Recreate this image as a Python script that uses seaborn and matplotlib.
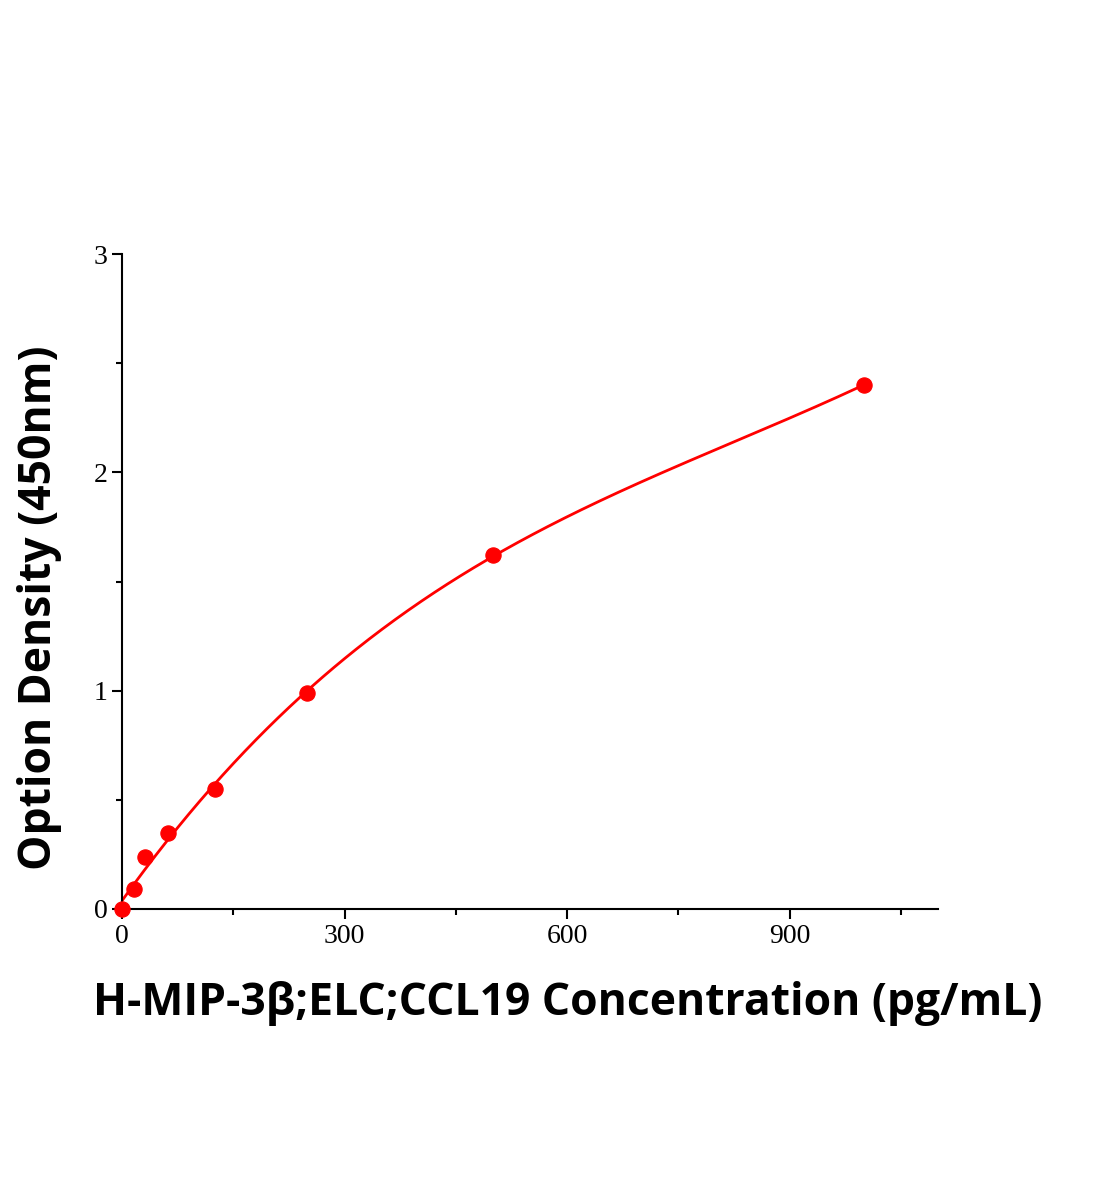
import numpy as np
import matplotlib
matplotlib.use("Agg")
import matplotlib.pyplot as plt
import seaborn as sns
from matplotlib.ticker import MultipleLocator

conc = [0, 15.6, 31.25, 62.5, 125, 250, 500, 1000]
od = [0.0, 0.09, 0.24, 0.35, 0.55, 0.99, 1.62, 2.40]
xticks = [0, 300, 600, 900]
yticks = [0, 1, 2, 3]

sns.set_style("ticks")
fig = plt.figure(figsize=(11.04, 12), dpi=100)
ax = fig.add_axes([0.1105, 0.2425, 0.7391, 0.5458])

coef = np.polyfit(conc, od, 3)
xs = np.linspace(0, 1000, 400)
ys = np.polyval(coef, xs)
sns.lineplot(x=xs, y=ys, ax=ax, color="#ff0000", lw=2)
sns.scatterplot(x=conc, y=od, ax=ax, color="#ff0000", s=120, edgecolor="#ff0000", zorder=5, clip_on=False)

ax.set_xlim(0, 1100)
ax.set_ylim(0, 3)
ax.set_xticks(xticks)
ax.set_yticks(yticks)
ax.xaxis.set_minor_locator(MultipleLocator(150))
ax.yaxis.set_minor_locator(MultipleLocator(0.5))
for s in ["top", "right"]:
    ax.spines[s].set_visible(False)
for s in ["left", "bottom"]:
    ax.spines[s].set_linewidth(1.5)
    ax.spines[s].set_color("black")
ax.tick_params(which="major", direction="out", length=7, width=1.5, labelsize=20, colors="black")
ax.tick_params(which="minor", direction="out", length=4, width=1.5, colors="black")
for lab in ax.get_xticklabels() + ax.get_yticklabels():
    lab.set_fontfamily("Liberation Serif")
ax.set_xlabel("")
ax.set_ylabel("")
fig.text(568 / 1104, 1 - 1003 / 1200, "H-MIP-3β;ELC;CCL19 Concentration (pg/mL)", color="black",
         ha="center", va="center", fontsize=32, fontweight="bold", fontfamily="Open Sans")
fig.text(40 / 1104, 1 - 608 / 1200, "Option Density (450nm)", rotation=90, color="black",
         ha="center", va="center", fontsize=32, fontweight="bold", fontfamily="Open Sans")
fig.savefig("out.png", dpi=100)
